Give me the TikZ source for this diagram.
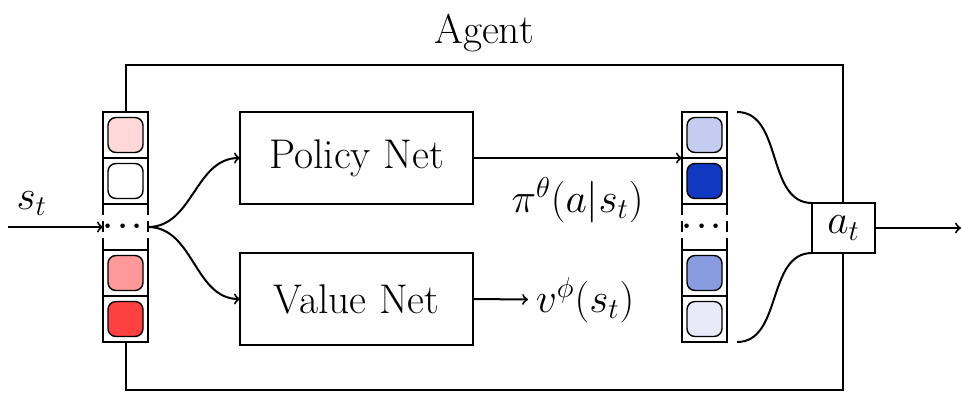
\documentclass[tikz,border=0pt]{standalone}
\usepackage{amsmath,amssymb}
\usepackage{xcolor}
\usetikzlibrary{positioning, backgrounds}
\definecolor{actblue}{RGB}{16,56,192}

\begin{document}
\begin{tikzpicture}[
    x=0.5pt, y=-0.5pt, line width=1pt, font=\huge,
    cell/.style={draw, minimum width=22.5pt, minimum height=23pt, inner sep=0pt, outer sep=0pt},
    gap/.style={minimum width=22.5pt, minimum height=23pt, inner sep=0pt, outer sep=0pt},
    dots/.style={font=\Large\boldmath, inner sep=0pt},
    side/.style={dash pattern=on 5.5pt off 3pt},
    unit/.style={draw, rounded corners=4pt, minimum size=17.5pt, inner sep=0pt, line width=0.7pt, fill=#1},
    net/.style={draw, minimum width=116.5pt, minimum height=46pt, outer sep=0pt},
    outbox/.style={draw, fill=white, minimum width=31.5pt, minimum height=25pt, outer sep=0pt}]
  \useasboundingbox (0,0) rectangle (962,392);

  % state column
  \node[cell] (l1) at (125.5,135) {};
  \node[cell, below=0pt of l1] (l2) {};
  \node[gap, below=0pt of l2] (l3) {};
  \node[cell, below=0pt of l3] (l4) {};
  \node[cell, below=0pt of l4] (l5) {};
  \foreach \n/\c in {l1/red!15, l2/white, l4/red!40, l5/red!75}
    \node[unit=\c] (u\n) at (\n) {};
  \node[dots] (dl) at (l3) {$\cdots$};
  \draw[side] (l3.north west) -- (l3.south west);
  \draw[side] (l3.north east) -- (l3.south east);

  % networks
  \node[net] (pol) at (356.5,158) {Policy Net};
  \node[net] (val) at (356.5,299) {Value Net};
  \node (vout) at (585,300) {$v^{\phi}(s_t)$};

  % action column
  \node[cell] (r1) at (704.5,135) {};
  \node[cell, below=0pt of r1] (r2) {};
  \node[gap, below=0pt of r2] (r3) {};
  \node[cell, below=0pt of r3] (r4) {};
  \node[cell, below=0pt of r4] (r5) {};
  \foreach \n/\c in {r1/actblue!25, r2/actblue, r4/actblue!50, r5/actblue!10}
    \node[unit=\c] (u\n) at (\n) {};
  \node[dots] (dr) at (r3) {$\cdots$};
  \draw[side] (r3.north west) -- (r3.south west);
  \draw[side] (r3.north east) -- (r3.south east);

  \node[outbox] (act) at (843.5,228) {$a_t$};

  \coordinate (in) at (8,227);
  \coordinate (out) at (961,228);
  \coordinate[right=5pt of r1.north east] (rt);
  \coordinate[right=5pt of r5.south east] (rb);
  \coordinate (tr) at (843,65);
  \coordinate (br) at (843,390);

  % connectors
  \draw[->] (in) -- node[above=2pt, pos=0.25] {$s_t$} (l3.west);
  \draw[->] (l3.east) to[out=0, in=180] (pol.west);
  \draw[->] (l3.east) to[out=0, in=180] (val.west);
  \draw[->] (pol.east) -- node[below=6pt] {$\pi^{\theta}(a|s_t)$} (r1.south west);
  \draw[->] (val.east) -- (vout);
  \draw (rt) to[out=0, in=180] (act.north west);
  \draw (rb) to[out=0, in=180] (act.south west);
  \draw[->] (act) -- (out);

  % agent frame
  \begin{scope}[on background layer]
    \draw[line width=1pt] (l1.north) |- (tr) -- (br) -| (l5.south);
  \end{scope}
  \node (agent) at (484,33) {Agent};
\end{tikzpicture}
\end{document}
